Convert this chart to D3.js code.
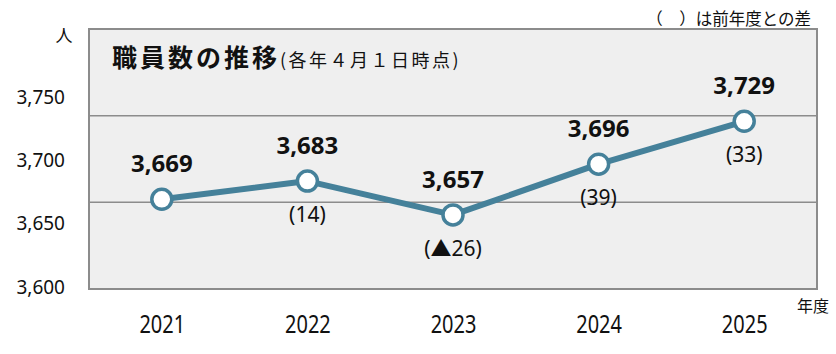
<!DOCTYPE html>
<html>
<head>
<meta charset="utf-8">
<script src="https://cdn.jsdelivr.net/npm/d3@7"></script>
<style>
  body { margin: 0; background: #fff; }
  svg { display: block; }
</style>
</head>
<body>
<svg id="chart" width="836" height="354"></svg>
<script>
// data
const years = ["2021", "2022", "2023", "2024", "2025"];
const staff = [3669, 3683, 3657, 3696, 3729];
const diffs = [null, "(14)", "(▲26)", "(39)", "(33)"];
const yTicks = [3600, 3650, 3700, 3750];
const gridValues = [3666.7, 3733.3];

const svg = d3.select("#chart");

const plotLeft = 89;
const plotRight = 817;
const plotTop = 29;
const plotBottom = 289;

const xscale = d3.scalePoint()
    .domain(years)
    .range([plotLeft, plotRight])
    .padding(0.5);

// scale used for the line and markers
const yscale = d3.scaleLinear()
    .domain([3600, 3800])
    .range([plotBottom, plotTop]);

// the tick labels in the original sit on their own spacing
const labelScale = d3.scaleLinear()
    .domain([3600, 3750])
    .range([287, 97]);

const cjk = "'Noto Sans CJK JP', 'Noto Sans', sans-serif";

// plot background
svg.append("rect")
    .attr("x", plotLeft)
    .attr("y", plotTop)
    .attr("width", plotRight - plotLeft)
    .attr("height", plotBottom - plotTop)
    .attr("fill", "#efefef")
    .attr("stroke", "#8c8c8c")
    .attr("stroke-width", 2);

svg.append("g").selectAll("line")
    .data(gridValues)
    .join("line")
    .attr("x1", plotLeft)
    .attr("x2", plotRight)
    .attr("y1", d => yscale(d))
    .attr("y2", d => yscale(d))
    .attr("stroke", "#8c8c8c")
    .attr("stroke-width", 1.5);

// axes
const yAxis = d3.axisLeft(labelScale)
    .tickValues(yTicks)
    .tickSize(0)
    .tickPadding(0)
    .tickFormat(d3.format(","));

svg.append("g")
    .attr("transform", `translate(${[65, 0]})`)
    .call(yAxis)
    .call(g => g.select(".domain").remove())
    .selectAll("text")
    .attr("font-family", "'Noto Sans', sans-serif")
    .attr("font-size", 19)
    .attr("fill", "#111");

const xAxis = d3.axisBottom(xscale)
    .tickSize(0)
    .tickPadding(26);

// years are set in a narrow face in the original
svg.append("g")
    .attr("transform", `translate(${[0, plotBottom]})`)
    .call(xAxis)
    .call(g => g.select(".domain").remove())
    .selectAll("text")
    .attr("font-family", "'Noto Sans', sans-serif")
    .attr("font-size", 25)
    .attr("transform", "scale(0.8,1)")
    .attr("fill", "#111");

// line and markers
const points = years.map((y, i) => ({year: y, value: staff[i], diff: diffs[i]}));

const line = d3.line()
    .x(d => xscale(d.year))
    .y(d => yscale(d.value));

svg.append("path")
    .attr("d", line(points))
    .attr("fill", "none")
    .attr("stroke", "#45819a")
    .attr("stroke-width", 6)
    .attr("stroke-linejoin", "round");

svg.append("g").selectAll("circle")
    .data(points)
    .join("circle")
    .attr("cx", d => xscale(d.year))
    .attr("cy", d => yscale(d.value))
    .attr("r", 10)
    .attr("fill", "#fff")
    .attr("stroke", "#45819a")
    .attr("stroke-width", 3.5);

// value labels
svg.append("g").selectAll("text")
    .data(points)
    .join("text")
    .attr("x", d => xscale(d.year))
    .attr("y", d => yscale(d.value) - 27)
    .attr("text-anchor", "middle")
    .attr("font-family", "'Noto Sans', sans-serif")
    .attr("font-weight", "bold")
    .attr("font-size", 24)
    .attr("fill", "#111")
    .text(d => d3.format(",")(d.value));

svg.append("g").selectAll("text")
    .data(points.filter(d => d.diff !== null))
    .join("text")
    .attr("x", d => xscale(d.year))
    .attr("y", d => yscale(d.value) + 41)
    .attr("text-anchor", "middle")
    .attr("font-family", "'Noto Sans', 'Noto Sans CJK JP', sans-serif")
    .attr("font-size", 21)
    .attr("fill", "#111")
    .text(d => d.diff);

// titles and unit labels
const title = svg.append("text")
    .attr("x", 112)
    .attr("y", 67)
    .attr("font-family", cjk)
    .attr("fill", "#111");

title.append("tspan")
    .attr("font-size", 25)
    .attr("font-weight", "bold")
    .attr("letter-spacing", 3)
    .text("職員数の推移");

title.append("tspan")
    .attr("font-size", 18)
    .attr("letter-spacing", 2.5)
    .text("(各年４月１日時点)");

svg.append("text")
    .attr("x", 811)
    .attr("y", 25)
    .attr("text-anchor", "end")
    .attr("font-family", cjk)
    .attr("font-size", 16.5)
    .attr("fill", "#111")
    .text("（　）は前年度との差");

svg.append("text")
    .attr("x", 64)
    .attr("y", 42)
    .attr("text-anchor", "middle")
    .attr("font-family", cjk)
    .attr("font-size", 17)
    .attr("fill", "#111")
    .text("人");

svg.append("text")
    .attr("x", 797)
    .attr("y", 312)
    .attr("font-family", cjk)
    .attr("font-size", 16)
    .attr("fill", "#111")
    .text("年度");
</script>
</body>
</html>
